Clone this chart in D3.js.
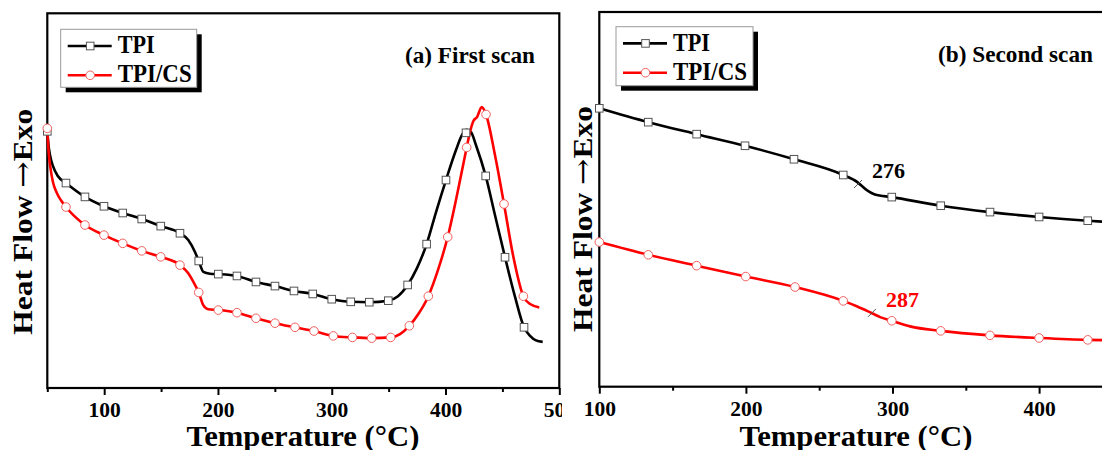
<!DOCTYPE html>
<html>
<head>
<meta charset="utf-8">
<script src="https://cdn.jsdelivr.net/npm/d3@7"></script>
<style>
  html, body { margin: 0; padding: 0; background: #fff; }
  svg { display: block; }
  text { font-family: "Liberation Serif", "Times New Roman", serif; font-weight: bold; }
</style>
</head>
<body>
<svg id="chart" width="1102" height="450"></svg>
<script>
// ---------- DATA ----------
const seriesNames = ["TPI", "TPI/CS"];
const panelTitles = ["(a) First scan", "(b) Second scan"];
const xTicksFirst = [100, 200, 300, 400, 500];
const xMinorFirst = [50, 150, 250, 350, 450];
const xTicksSecond = [100, 200, 300, 400];
const xMinorSecond = [150, 250, 350, 450];

// First scan, [temperature °C, heat flow (a.u.)]
const firstTPI = [[50,68.5],[51.05,64.8],[52.4,62.1],[55.0,59.2],[59.4,56.5],[66.4,54.7],[83.1,51.0],[99.8,48.5],[116.3,46.7],[133.0,45.1],[149.7,43.2],[166.6,41.3],[173.9,39.5],[179.8,36.3],[183.1,33.9],[187.1,31.0],[193.0,30.5],[200.3,30.4],[216.7,29.9],[233.4,28.3],[250.1,27.2],[266.8,25.9],[283.3,25.1],[300.0,23.7],[316.7,23.0],[333.0,22.9],[349.7,23.3],[358.2,24.5],[366.7,27.5],[374.9,32.0],[383.4,38.4],[391.6,46.9],[400.4,55.5],[409.2,63.5],[414.4,67.5],[418.6,68.9],[422.4,68.3],[426.8,64.8],[435.3,56.6],[443.5,46.1],[452.3,34.9],[461.1,24.3],[469.0,16.2],[474.3,13.9],[479.5,12.7],[485.4,12.3]];
const firstTPIMarks = [[50,68.5],[66.4,54.7],[83.1,51.0],[99.8,48.5],[116.3,46.7],[133.0,45.1],[149.7,43.2],[166.6,41.3],[183.1,33.9],[200.3,30.4],[216.7,29.9],[233.4,28.3],[250.1,27.2],[266.8,25.9],[283.3,25.1],[300.0,23.7],[316.7,23.0],[333.0,22.9],[349.7,23.3],[366.7,27.5],[383.4,38.4],[400.4,55.5],[418.0,68.1],[435.3,56.6],[452.3,34.9],[469.0,16.2]];
const firstCS = [[50,69.3],[51.05,63.5],[52.8,58.7],[55.0,54.9],[58.5,52.0],[62.0,50.1],[66.4,48.3],[83.1,43.5],[99.8,40.8],[116.3,38.6],[133.0,36.6],[149.7,35.0],[166.6,32.8],[173.9,30.6],[179.8,27.5],[183.1,25.5],[187.1,22.1],[191.5,21.0],[200.3,20.8],[216.7,20.1],[233.4,18.6],[250.1,17.3],[267.7,16.2],[284.4,15.2],[301.4,13.9],[318.2,13.5],[335.1,13.3],[351.8,13.5],[360.0,14.4],[368.2,16.6],[376.7,20.0],[384.9,24.5],[393.4,31.5],[401.9,40.3],[410.1,51.5],[418.6,64.2],[421.5,68.3],[424.4,71.2],[427.7,72.3],[431.8,75.0],[435.6,73.0],[443.5,62.1],[451.4,49.1],[459.3,35.5],[468.4,24.5],[474.3,22.4],[482.4,21.5]];
const firstCSMarks = [[50,69.3],[66.4,48.3],[83.1,43.5],[99.8,40.8],[116.3,38.6],[133.0,36.6],[149.7,35.0],[166.6,32.8],[183.1,25.5],[200.3,20.8],[216.7,20.1],[233.4,18.6],[250.1,17.3],[267.7,16.2],[284.4,15.2],[301.4,13.9],[318.2,13.5],[335.1,13.3],[351.8,13.5],[368.2,16.6],[384.9,24.5],[401.9,40.3],[418.6,64.2],[435.6,73.0],[451.4,49.1],[468.4,24.5]];

// Second scan
const secondTPI = [[100,74.3],[133.4,70.6],[166.4,67.4],[199.4,64.3],[232.8,60.7],[266.4,56.5],[276,54.6],[282,52.6],[288,51.3],[299.5,50.6],[332.9,48.3],[366.5,46.6],[400.0,45.3],[433.2,44.3],[450,43.9]];
const secondTPIMarks = [[100,74.3],[133.4,70.6],[166.4,67.4],[199.4,64.3],[232.8,60.7],[266.4,56.5],[299.5,50.6],[332.9,48.3],[366.5,46.6],[400.0,45.3],[433.2,44.3]];
const secondCS = [[100,38.6],[133.4,35.2],[166.4,32.3],[199.9,29.4],[233.5,26.6],[266.4,22.9],[276,21.4],[286,19.6],[292,18.5],[299.5,17.6],[312,16.1],[332.9,14.9],[366.5,13.7],[400,13.0],[433.2,12.5],[450,12.4]];
const secondCSMarks = [[100,38.6],[133.4,35.2],[166.4,32.3],[199.9,29.4],[233.5,26.6],[266.4,22.9],[299.5,17.6],[332.9,14.9],[366.5,13.7],[400,13.0],[433.2,12.5]];

// Glass transition annotations [temperature, heat flow, label]
const tgNotes = [[276.5, 54.1, "276"], [286, 19.7, "287"]];

// ---------- DRAW ----------
const svg = d3.select("#chart");
const BLACK = "#000", RED = "#ff0000";

svg.append("defs").append("clipPath").attr("id", "clipLeft")
  .append("rect").attr("x", 0).attr("y", 0).attr("width", 562).attr("height", 450);

function drawPanel(g, opt) {
  const x = d3.scaleLinear().domain(opt.xDomain).range(opt.xRange);
  const y = d3.scaleLinear().domain([0, 100]).range(opt.yRange);
  const [x0, x1] = opt.xRange, [yb, yt] = opt.yRange;

  // frame
  g.append("rect").attr("x", x0).attr("y", yt).attr("width", x1 - x0).attr("height", yb - yt)
    .attr("fill", "none").attr("stroke", "#000").attr("stroke-width", 2.2);

  // major axis
  const ax = g.append("g").attr("transform", `translate(0,${yb})`)
    .call(d3.axisBottom(x).tickValues(opt.ticks).tickSize(7).tickFormat(d3.format("d")));
  ax.select(".domain").remove();
  ax.selectAll(".tick line").attr("stroke", "#000").attr("stroke-width", 2);
  ax.selectAll(".tick text").attr("y", 29).attr("dy", 0)
    .attr("font-size", 21.5).attr("fill", "#000")
    .style("font-family", '"Liberation Serif", "Times New Roman", serif').style("font-weight", "bold");
  // minor
  const mn = g.append("g").attr("transform", `translate(0,${yb})`)
    .call(d3.axisBottom(x).tickValues(opt.minor).tickSize(4).tickFormat(""));
  mn.select(".domain").remove();
  mn.selectAll(".tick line").attr("stroke", "#000").attr("stroke-width", 2);

  // axis titles
  g.append("text").attr("x", opt.xTitleX).attr("y", 446).attr("text-anchor", "middle")
    .attr("font-size", 30).attr("textLength", 233).attr("lengthAdjust", "spacingAndGlyphs")
    .text("Temperature (°C)");
  const yt2 = g.append("text").attr("transform", `translate(${opt.yTitleX},${opt.yTitleY}) rotate(-90)`)
    .attr("text-anchor", "middle").attr("font-size", 27)
    .attr("textLength", 226).attr("lengthAdjust", "spacingAndGlyphs");
  yt2.append("tspan").text("Heat Flow ");
  yt2.append("tspan").style("font-family", '"DejaVu Serif", serif').style("font-weight", "normal")
    .attr("font-size", 27).text("\u2192");
  yt2.append("tspan").text("Exo");

  const line = d3.line().x(d => x(d[0])).y(d => y(d[1])).curve(d3.curveMonotoneX);
  const plot = g.append("g");
  opt.series.forEach(s => {
    plot.append("path").datum(s.line).attr("d", line)
      .attr("fill", "none").attr("stroke", s.color).attr("stroke-width", 2.6);
  });
  opt.series.forEach(s => {
    if (s.shape === "square") {
      plot.append("g").selectAll("rect").data(s.marks).join("rect")
        .attr("x", d => x(d[0]) - 3.8).attr("y", d => y(d[1]) - 3.8)
        .attr("width", 7.6).attr("height", 7.6)
        .attr("fill", "#fff").attr("stroke", "#555").attr("stroke-width", 1);
    } else {
      plot.append("g").selectAll("circle").data(s.marks).join("circle")
        .attr("cx", d => x(d[0])).attr("cy", d => y(d[1])).attr("r", 4.3)
        .attr("fill", "#fff").attr("stroke", "#f06060").attr("stroke-width", 1);
    }
  });

  // legend
  const L = opt.legend;
  const lg = g.append("g").attr("transform", `translate(${L.x},${L.y})`);
  lg.append("rect").attr("x", 5).attr("y", 5).attr("width", L.w).attr("height", L.h).attr("fill", "#000");
  lg.append("rect").attr("x", 0).attr("y", 0).attr("width", L.w).attr("height", L.h)
    .attr("fill", "#fff").attr("stroke", "#999").attr("stroke-width", 1);
  const rows = [
    {name: seriesNames[0], color: BLACK, shape: "square", ly: 16.7, ty: 24, tl: 37},
    {name: seriesNames[1], color: RED, shape: "circle", ly: 46, ty: 53, tl: 74}
  ];
  rows.forEach(r => {
    lg.append("line").attr("x1", 7).attr("x2", 51).attr("y1", r.ly).attr("y2", r.ly)
      .attr("stroke", r.color).attr("stroke-width", 2.6);
    if (r.shape === "square") {
      lg.append("rect").attr("x", 29.5 - 3.8).attr("y", r.ly - 3.8).attr("width", 7.6).attr("height", 7.6)
        .attr("fill", "#fff").attr("stroke", "#555");
    } else {
      lg.append("circle").attr("cx", 29.5).attr("cy", r.ly).attr("r", 4.3)
        .attr("fill", "#fff").attr("stroke", "#f06060");
    }
    lg.append("text").attr("x", 57).attr("y", r.ty).attr("font-size", 25)
      .attr("textLength", r.tl).attr("lengthAdjust", "spacingAndGlyphs").text(r.name);
  });

  // panel title
  g.append("text").attr("x", opt.title.x).attr("y", opt.title.y).attr("font-size", 24)
    .attr("textLength", opt.title.len).attr("lengthAdjust", "spacingAndGlyphs").text(opt.title.text);

  return {x, y, plot};
}

// Left panel (clipped where the right image overlaps)
const left = svg.append("g").attr("clip-path", "url(#clipLeft)");
drawPanel(left, {
  xDomain: [50, 500], xRange: [47.3, 559.3], yRange: [388, 13.3],
  ticks: xTicksFirst, minor: xMinorFirst,
  xTitleX: 303, yTitleX: 32, yTitleY: 221.7,
  series: [
    {line: firstTPI, marks: firstTPIMarks, color: BLACK, shape: "square"},
    {line: firstCS, marks: firstCSMarks, color: RED, shape: "circle"}
  ],
  legend: {x: 60.7, y: 29.3, w: 136, h: 58},
  title: {x: 405, y: 63, len: 130, text: panelTitles[0]}
});

// Right panel
const right = svg.append("g");
right.append("rect").attr("x", 562).attr("y", 0).attr("width", 540).attr("height", 450).attr("fill", "#fff");
const R = drawPanel(right, {
  xDomain: [100, 450], xRange: [599.3, 1112.4], yRange: [386.7, 12],
  ticks: xTicksSecond, minor: xMinorSecond,
  xTitleX: 856, yTitleX: 592, yTitleY: 219,
  series: [
    {line: secondTPI, marks: secondTPIMarks, color: BLACK, shape: "square"},
    {line: secondCS, marks: secondCSMarks, color: RED, shape: "circle"}
  ],
  legend: {x: 616, y: 26.7, w: 137, h: 59},
  title: {x: 938, y: 61.7, len: 155, text: panelTitles[1]}
});

tgNotes.forEach((n, i) => {
  const cx = R.x(n[0]), cy = R.y(n[1]);
  R.plot.append("line").attr("x1", cx - 4).attr("y1", cy + 4).attr("x2", cx + 4).attr("y2", cy - 4)
    .attr("stroke", "#555").attr("stroke-width", 1);
  right.append("text").attr("x", cx + 14).attr("y", cy - 5.5).attr("font-size", 22)
    .attr("fill", i === 0 ? BLACK : RED).text(n[2]);
});
</script>
</body>
</html>
